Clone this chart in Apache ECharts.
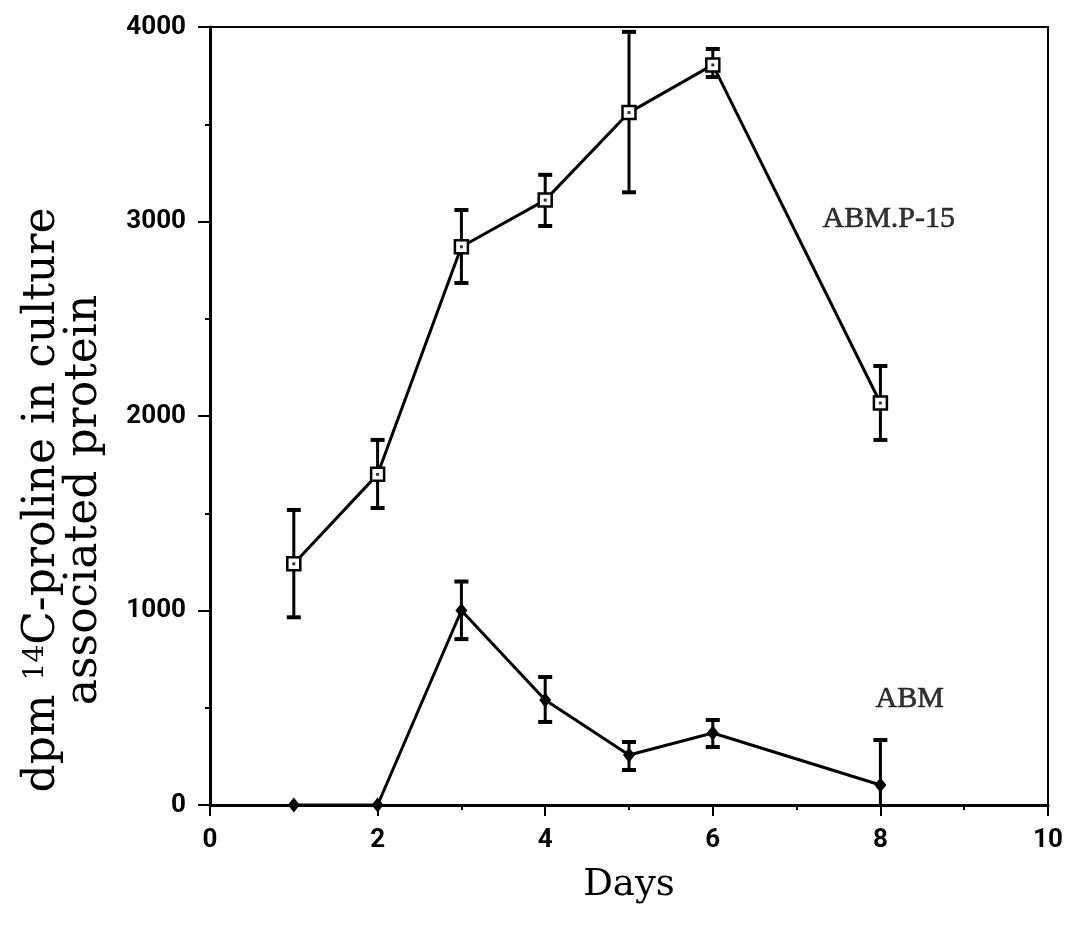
<!DOCTYPE html>
<html>
<head>
<meta charset="utf-8">
<script src="https://cdn.jsdelivr.net/npm/echarts@6/dist/echarts.min.js"></script>
<style>html,body{margin:0;padding:0;background:#fff}#c{width:1065px;height:931px}</style>
</head>
<body>
<div id="c"></div>
<script>
const days = [1, 2, 3, 4, 5, 6, 8];
const p15Mean = [1240, 1700, 2870, 3110, 3560, 3805, 2067];
const p15Low  = [965, 1527, 2684, 2977, 3150, 3743, 1877];
const p15High = [1517, 1877, 3059, 3240, 3975, 3887, 2257];
const abmMean = [0, 0, 1000, 540, 257, 370, 103];
const abmLow  = [0, 0, 853, 427, 180, 298, -128];
const abmHigh = [0, 0, 1149, 658, 324, 437, 334];
const xTicks = [0, 2, 4, 6, 8, 10];
const yTicks = [0, 1000, 2000, 3000, 4000];
const seriesLabels = [
  { name: 'ABM.P-15', x: 8.1, y: 3010 },
  { name: 'ABM', x: 8.35, y: 545 }
];

const chart = echarts.init(document.getElementById('c'), null, { renderer: 'canvas' });

function zip(a, b) { return a.map((v, i) => [v, b[i]]); }
function errData(lo, hi) { return days.map((d, i) => [d, lo[i], hi[i]]).filter(r => r[2] > r[1]); }

function errRender(params, api) {
  const x = api.value(0);
  const lo = api.coord([x, api.value(1)]);
  const hi = api.coord([x, api.value(2)]);
  const w = 7;
  const st = { stroke: '#000', lineWidth: 3 };
  return {
    type: 'group',
    children: [
      { type: 'line', shape: { x1: lo[0], y1: lo[1], x2: hi[0], y2: hi[1] }, style: st },
      { type: 'line', shape: { x1: hi[0] - w, y1: hi[1], x2: hi[0] + w, y2: hi[1] }, style: { stroke: '#000', lineWidth: 4 } },
      { type: 'line', shape: { x1: lo[0] - w, y1: lo[1], x2: lo[0] + w, y2: lo[1] }, style: { stroke: '#000', lineWidth: 4 } }
    ]
  };
}

const tickFont = { fontFamily: 'Roboto', fontSize: 26, fontWeight: 'bold', color: '#000' };

chart.setOption({
  animation: false,
  backgroundColor: '#fff',
  grid: { left: 210, right: 17, top: 27, bottom: 126, show: true, borderColor: '#000', borderWidth: 2,
    backgroundColor: 'transparent', containLabel: false, outerBoundsMode: 'none' },
  xAxis: {
    type: 'value', min: 0, max: 10, interval: 2,
    axisLine: { show: true, onZero: false, lineStyle: { color: '#000', width: 3 } },
    axisTick: { show: true, inside: false, length: 11, lineStyle: { color: '#000', width: 2 } },
    minorTick: { show: true, splitNumber: 2, length: 5, lineStyle: { color: '#000', width: 2 } },
    splitLine: { show: false },
    axisLabel: Object.assign({ margin: 22, formatter: v => xTicks.includes(v) ? String(v) : '' }, tickFont),
    name: 'Days', nameLocation: 'middle', nameGap: 62,
    nameTextStyle: { fontFamily: 'DejaVu Serif', fontSize: 37, color: '#000' }
  },
  yAxis: {
    type: 'value', min: 0, max: 4000, interval: 1000,
    axisLine: { show: true, lineStyle: { color: '#000', width: 3 } },
    axisTick: { show: true, inside: false, length: 12, lineStyle: { color: '#000', width: 2 } },
    minorTick: { show: true, splitNumber: 2, length: 5, lineStyle: { color: '#000', width: 2 } },
    splitLine: { show: false },
    axisLabel: Object.assign({ margin: 24, formatter: v => yTicks.includes(v) ? String(v) : '' }, tickFont),
    name: 'dpm {sup|14}C-proline in culture\nassociated protein',
    nameLocation: 'middle', nameGap: 104,
    nameTextStyle: {
      fontFamily: 'DejaVu Serif', fontSize: 44, color: '#000', lineHeight: 42,
      padding: [0, 168, 0, 0],
      rich: { sup: { fontFamily: 'DejaVu Serif', fontSize: 28, verticalAlign: 'top', color: '#000', padding: [0, 0, 16, 0] } }
    }
  },
  series: [
    {
      type: 'custom', renderItem: errRender, data: errData(p15Low, p15High),
      encode: { x: 0, y: [1, 2] }, clip: true, z: 3
    },
    {
      type: 'custom', renderItem: errRender, data: errData(abmLow, abmHigh),
      encode: { x: 0, y: [1, 2] }, clip: true, z: 3
    },
    {
      name: 'ABM.P-15', type: 'line', data: zip(days, p15Mean),
      lineStyle: { color: '#000', width: 3 },
      symbol: 'rect', symbolSize: 13,
      itemStyle: { color: '#fff', borderColor: '#000', borderWidth: 2.5 }, z: 4
    },
    {
      type: 'scatter', data: zip(days, p15Mean), symbol: 'rect', symbolSize: 3,
      itemStyle: { color: '#000' }, z: 5, silent: true
    },
    {
      name: 'ABM', type: 'line', data: zip(days, abmMean),
      lineStyle: { color: '#000', width: 3 },
      symbol: 'diamond', symbolSize: [12, 15],
      itemStyle: { color: '#000' }, z: 4
    },
    {
      type: 'scatter', symbolSize: 0, z: 6, silent: true,
      data: seriesLabels.map(s => ({ value: [s.x, s.y], name: s.name })),
      label: { show: true, position: 'inside', formatter: p => p.name,
        fontFamily: 'Liberation Serif', fontSize: 30, color: '#000',
        textBorderColor: '#000', textBorderWidth: 0.6 }
    }
  ]
});
</script>
</body>
</html>
